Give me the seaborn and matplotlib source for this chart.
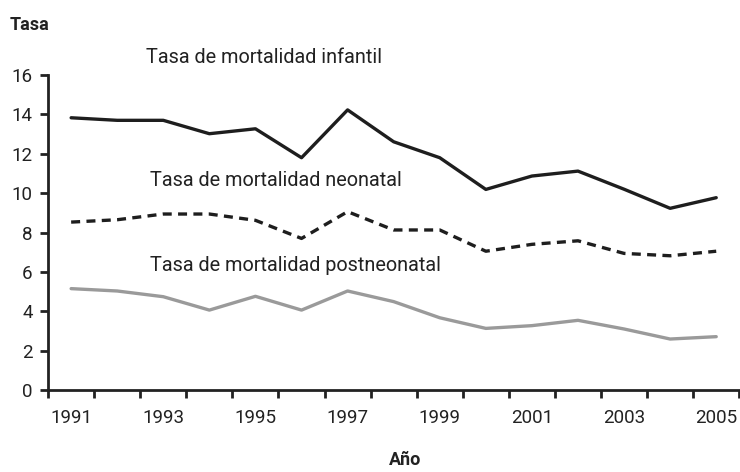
import pandas as pd
import matplotlib.pyplot as plt
import matplotlib.ticker as mticker
import seaborn as sns

years = list(range(1991, 2006))
infantil = [13.83, 13.7, 13.7, 13.02, 13.27, 11.8, 14.23, 12.61, 11.8, 10.19, 10.87, 11.12, 10.2, 9.23, 9.77]
neonatal = [8.53, 8.65, 8.94, 8.94, 8.62, 7.7, 9.06, 8.13, 8.13, 7.05, 7.4, 7.58, 6.94, 6.82, 7.05]
postneonatal = [5.15, 5.03, 4.74, 4.06, 4.76, 4.06, 5.03, 4.49, 3.67, 3.13, 3.27, 3.54, 3.10, 2.59, 2.71]
tick_years = [1991, 1993, 1995, 1997, 1999, 2001, 2003, 2005]

df = pd.DataFrame({"Año": years, "infantil": infantil, "neonatal": neonatal, "postneonatal": postneonatal})

sns.set_style("white")
plt.rcParams['font.family'] = ['Roboto', 'DejaVu Sans']

fig = plt.figure(figsize=(7.4, 4.72), dpi=100)
ax = fig.add_axes([0.065, 0.1737, 0.934, 0.6673])

sns.lineplot(data=df, x="Año", y="infantil", color="#1e1e1e", linewidth=2.4, ax=ax)
sns.lineplot(data=df, x="Año", y="neonatal", color="#1e1e1e", linewidth=2.4, ax=ax)
ax.lines[-1].set_dashes([2.7, 1.9])
sns.lineplot(data=df, x="Año", y="postneonatal", color="#9a9a9a", linewidth=2.4, ax=ax)

ax.set_xlim(1990.5, 2005.5)
ax.set_ylim(0, 16)
ax.set_yticks(range(0, 17, 2))
ax.set_xticks(tick_years)
ax.set_xticklabels([str(y) for y in tick_years])
ax.xaxis.set_minor_locator(mticker.FixedLocator([y - 0.5 for y in years] + [2005.5]))
ax.tick_params(axis="x", which="both", bottom=True)
ax.tick_params(axis="y", which="both", left=True)
ax.tick_params(axis="x", which="major", length=0, labelsize=13.5, pad=14, colors="#222222")
ax.tick_params(axis="x", which="minor", length=6, width=2, color="#222222", direction="out")
ax.tick_params(axis="y", length=6, width=2, color="#222222", labelsize=13.5, pad=5, direction="out", labelcolor="#222222")

for side in ["top", "right"]:
    ax.spines[side].set_visible(False)
for side in ["left", "bottom"]:
    ax.spines[side].set_linewidth(2)
    ax.spines[side].set_color("#222222")

ax.set_xlabel("")
ax.set_ylabel("")

ax.text(1992.63, 16.9, "Tasa de mortalidad infantil", fontsize=14.3, color="#222222", va="center", clip_on=False)
ax.text(1992.71, 10.66, "Tasa de mortalidad neonatal", fontsize=14.3, color="#222222", va="center")
ax.text(1992.71, 6.35, "Tasa de mortalidad postneonatal", fontsize=14.3, color="#222222", va="center")

fig.text(10 / 740, 1 - 25 / 472, "Tasa", fontsize=13, fontweight="bold", color="#222222", va="center")
fig.text(405 / 740, 1 - 460 / 472, "Año", fontsize=13, fontweight="bold", color="#222222", va="center", ha="center")

fig.savefig("out.png", dpi=100)
